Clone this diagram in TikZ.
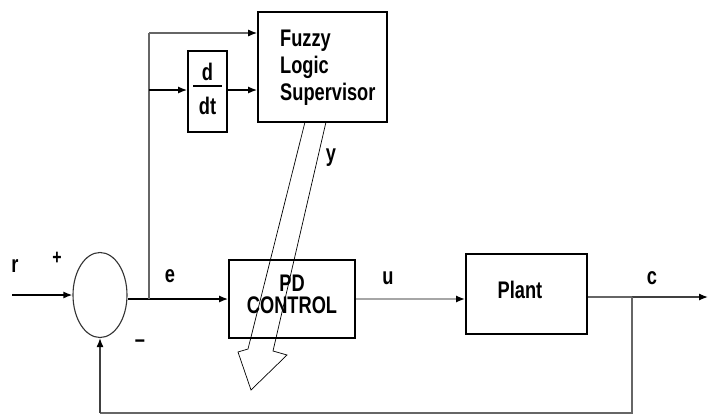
\documentclass[tikz,border=0pt]{standalone}
\usepackage{fontspec}
\setmainfont{Liberation Sans}[FakeStretch=0.76,UprightFont=*,BoldFont=* Bold]
\usetikzlibrary{shapes.geometric,arrows.meta}
\begin{document}
\begin{tikzpicture}[x=1pt,y=-1pt,
  box/.style={draw=black,line width=1.6pt,rectangle,inner sep=0pt},
  txt/.style={font=\fontsize{24}{27}\selectfont\bfseries,inner sep=0pt},
  ln/.style={line width=1.6pt,black},
  gln/.style={line width=1.3pt,black!60},
  uln/.style={line width=2.6pt,black!35},
  arr/.style={-{Latex[length=9pt,width=7pt,color=black]}}]
\useasboundingbox (0,0) rectangle (709,418);
% blocks
\node[box,minimum width=129pt,minimum height=110pt] (fuzzy) at (322.5,67) {};
\node[txt,align=left,anchor=west] (ftxt) at (280,68) {Fuzzy\\Logic\\Supervisor};
\node[box,minimum width=39pt,minimum height=81pt] (ddt) at (207.5,91.5) {};
\node[txt] (dn) at (207.5,72) {d};
\node[txt] (dd) at (207.5,106) {dt};
\draw[line width=1.6pt] ([xshift=6pt]ddt.west |- 0,86) coordinate (fl) -- ([xshift=-6pt]ddt.east |- 0,86) coordinate (fr);
\node[draw=black!80,line width=1.1pt,ellipse,minimum width=54pt,minimum height=85pt,inner sep=0pt] (sum) at (100,295) {};
\node[box,minimum width=126pt,minimum height=78pt] (pd) at (292,299) {};
\node[txt,align=center,font=\fontsize{24}{22}\selectfont\bfseries] (pdtxt) at (292,294) {PD\\CONTROL};
\node[box,minimum width=121pt,minimum height=80pt] (plant) at (526.5,294) {};
\node[txt] (ptxt) at (520,290) {Plant};
% coordinates
\coordinate (rin) at (12,295);
\coordinate (j) at (149,299);
\coordinate (jtop) at (149,33);
\coordinate (jm) at (149,90);
\coordinate (fb) at (632,297);
\coordinate (cout) at (708,297);
\coordinate (fbb) at (632,413);
% connectors
\draw[ln,arr] (rin) -- (sum.west);
\draw[ln,arr] (sum.east |- pd.west) -- (pd.west);
\draw[gln] (j) -- (jtop);
\draw[gln,arr] (jtop) -- (jtop -| fuzzy.west);
\draw[ln,arr] (jm) -- (jm -| ddt.west);
\draw[ln,arr] (ddt.east |- jm) -- (jm -| fuzzy.west);
\draw[uln,arr] (pd.east) -- (pd.east -| plant.west);
\draw[gln] (fb -| plant.east) -- (fb);
\draw[gln,black!75,arr] (fb) -- (cout);
\draw[gln] (fb) -- (fbb) -- (fbb -| sum.south);
\draw[gln,black!75,arr] (fbb -| sum.south) -- (sum.south);
% hollow arrow from supervisor to PD control
\draw[line width=0.7pt,black,line join=miter] (305,122) -- (248,349) -- (238,352) -- (251,390) -- (287,355) -- (273,351) -- (326,122);
% labels
\node[txt] (lr) at (15,266) {r};
\node[txt,font=\fontsize{21}{22}\selectfont\bfseries] (lp) at (57,258) {+};
\node[txt] (le) at (170,276) {e};
\node[txt] (lm) at (140,344) {–};
\node[txt] (lu) at (388,278) {u};
\node[txt] (lc) at (652,278) {c};
\node[txt] (ly) at (331,158) {y};
\end{tikzpicture}
\end{document}
